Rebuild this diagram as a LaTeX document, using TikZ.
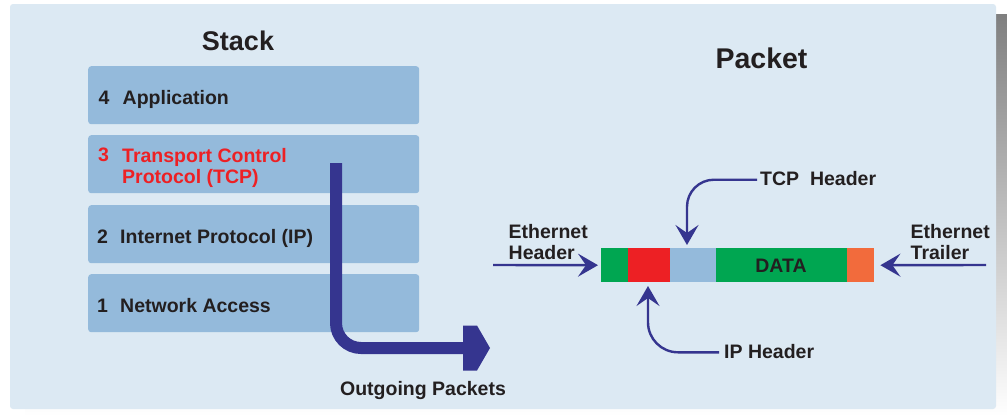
\documentclass[tikz,border=0pt]{standalone}
\usepackage{fontspec}
\setmainfont{Liberation Sans}
\usetikzlibrary{arrows.meta}

\definecolor{panel}{HTML}{DCE9F3}
\definecolor{shade}{HTML}{95BADB}
\definecolor{layer}{HTML}{94BADB}
\definecolor{navy}{HTML}{35358F}
\definecolor{ink}{HTML}{231F20}
\definecolor{tcpred}{HTML}{ED2024}
\definecolor{ethgreen}{HTML}{00A651}
\definecolor{trailer}{HTML}{F26B3C}

\tikzset{
  lbl/.style={font=\bfseries\fontsize{19.5}{21}\selectfont, text=ink, inner sep=0pt},
  heading/.style={font=\bfseries\fontsize{27}{30}\selectfont, text=ink, inner sep=0pt},
  layerbox/.style={fill=layer, rounded corners=3pt, inner sep=0pt,
                   minimum width=331pt, minimum height=58pt, anchor=north west},
  seg/.style={inner sep=0pt, minimum height=34pt, anchor=north west},
  pointer/.style={draw=navy, line width=2.4pt,
                  -{Stealth[length=20pt, width=23pt, inset=8pt]}},
  flow/.style={draw=navy, line width=12pt, line cap=butt, rounded corners=25pt}
}

\begin{document}
\begin{tikzpicture}[x=1pt, y=-1pt]
\useasboundingbox (0,0) rectangle (1007,416);
% backdrop with drop shadow
\fill[white] (0,0) rectangle (1007,416);
\fill[shade] (25,14) rectangle (1007,416);
\fill[panel, rounded corners=3pt] (10,4) rectangle (996,409);

% ---- protocol stack ----
\node[heading, anchor=base] (stack) at (238,50.7) {Stack};

\node[layerbox] (l4) at (88,66)  {};
\node[layerbox] (l3) at (88,135) {};
\node[layerbox] (l2) at (88,205) {};
\node[layerbox] (l1) at (88,274) {};

\node[lbl, anchor=base west] (n4) at (98.5,104.3) {4};
\node[lbl, anchor=base west] (t4) at (122.5,104.3) {Application};

\node[lbl, anchor=base west, text=tcpred] (n3) at (98,161.7) {3};
\node[lbl, anchor=north west, align=left, text=tcpred] (t3) at (122,147.7)
  {Transport Control\\Protocol (TCP)};

\node[lbl, anchor=base west] (n2) at (97,243.3) {2};
\node[lbl, anchor=base west] (t2) at (120,243.3) {Internet Protocol (IP)};

\node[lbl, anchor=base west] (n1) at (97,312.3) {1};
\node[lbl, anchor=base west] (t1) at (120,312.3) {Network Access};

% outgoing path from the transport layer
\coordinate (flowstart) at (336,163);
\coordinate (flowend) at (463,348);
\draw[flow] (flowstart) |- (flowend);
\fill[navy] (flowend) ++(0,-22.5) -- ++(14,0) -- (490,348) -- (477,370.5)
  -- (463,370.5) -- cycle;
\node[lbl, anchor=base] (out) at (423,395.5) {Outgoing Packets};

% ---- packet ----
\node[heading, anchor=base, font=\bfseries\fontsize{28.5}{30}\selectfont]
  (packet) at (761.5,68.3) {Packet};

\node[seg, fill=ethgreen, minimum width=27pt] (eh)   at (601,248) {};
\node[seg, fill=tcpred,   minimum width=42pt] (iph)  at (628,248) {};
\node[seg, fill=layer,    minimum width=46pt] (tcph) at (670,248) {};
\node[seg, fill=ethgreen, minimum width=131pt] (data) at (716,248) {};
\node[seg, fill=trailer,  minimum width=27pt] (et)   at (847,248) {};
\node[lbl, anchor=base] (datalbl) at (781,272) {DATA};

% Ethernet header
\node[lbl, anchor=north west, align=left] (ehl) at (508.5,224.3) {Ethernet\\Header};
\coordinate (ehs) at (493,265);
\draw[pointer] (ehs) -- ([xshift=-3pt]eh.west);

% Ethernet trailer
\node[lbl, anchor=north west, align=left] (etl) at (910.5,224.3) {Ethernet\\Trailer};
\coordinate (ets) at (986,265);
\draw[pointer] (ets) -- ([xshift=6pt]et.east);

% TCP header
\node[lbl, anchor=base west] (tcpl) at (760,185.7) {TCP\ \ Header};
\coordinate (tcptip) at (687,245);
\draw[pointer, rounded corners=27pt] ([xshift=-3pt, yshift=6pt]tcpl.base west) -| (tcptip);

% IP header
\node[lbl, anchor=base west] (ipl) at (724,358.3) {IP Header};
\coordinate (iptip) at (648,286);
\draw[pointer, rounded corners=30pt] ([xshift=-5pt, yshift=6pt]ipl.base west) -| (iptip);
\end{tikzpicture}
\end{document}
